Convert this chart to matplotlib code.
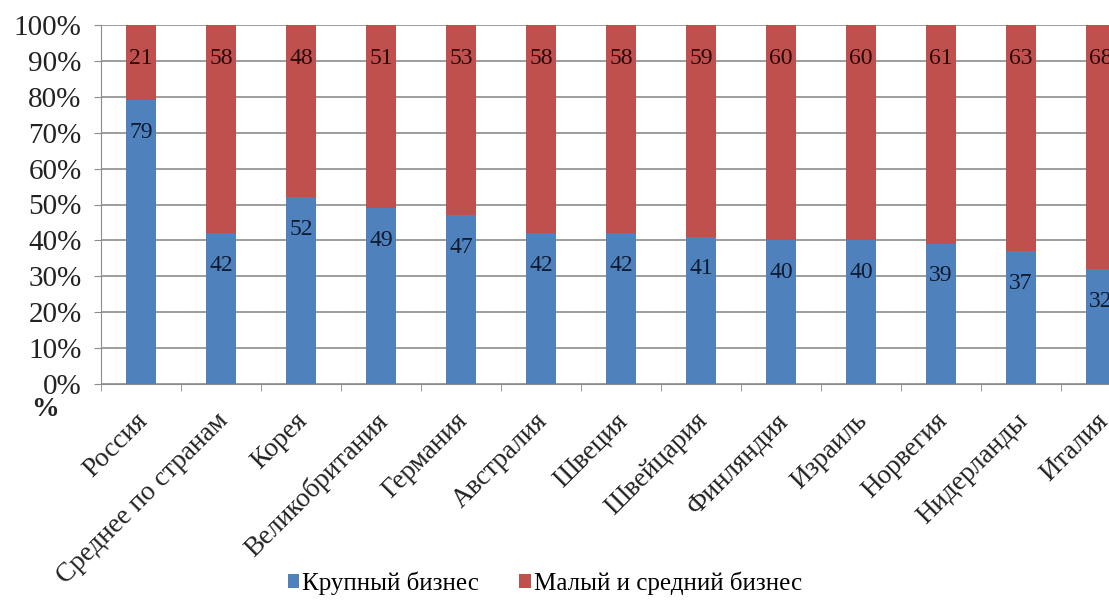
import matplotlib
matplotlib.use("Agg")
import matplotlib.pyplot as plt
import matplotlib.transforms as mtransforms
import numpy as np
from matplotlib.ticker import FixedLocator
from matplotlib.patches import Patch

categories = ["Россия", "Среднее по странам", "Корея", "Великобритания", "Германия",
              "Австралия", "Швеция", "Швейцария", "Финляндия", "Израиль",
              "Норвегия", "Нидерланды", "Италия"]
large_business = [79, 42, 52, 49, 47, 42, 42, 41, 40, 40, 39, 37, 32]
small_medium_business = [21, 58, 48, 51, 53, 58, 58, 59, 60, 60, 61, 63, 68]
series_names = ["Крупный бизнес", "Малый и средний бизнес"]
yticks = [0, 10, 20, 30, 40, 50, 60, 70, 80, 90, 100]

plt.rcParams['font.family'] = ['Liberation Serif', 'DejaVu Serif']

W, H = 1109, 605
fig = plt.figure(figsize=(W / 100, H / 100), dpi=100)
left_px, right_px, top_px, bottom_px = 101, 1141, 25, 384
ax = fig.add_axes([left_px / W, 1 - bottom_px / H, (right_px - left_px) / W, (bottom_px - top_px) / H])

blue = "#4F81BD"
red = "#C0504D"
x = np.arange(len(categories))
bw = 0.38
ax.bar(x, large_business, bw, color=blue, zorder=3)
ax.bar(x, small_medium_business, bw, bottom=large_business, color=red, zorder=3)

for i in range(len(categories)):
    b = large_business[i]
    r = small_medium_business[i]
    ax.annotate(str(b), (x[i], b), xytext=(0, -32), textcoords='offset pixels',
                ha='center', va='center', fontsize=17, color='#0d1b33', zorder=4)
    ax.annotate(str(r), (x[i], b + r), xytext=(0, -33), textcoords='offset pixels',
                ha='center', va='center', fontsize=17, color='#2a0a08', zorder=4)

ax.set_xlim(-0.5, len(categories) - 0.5)
ax.set_ylim(0, 100)
ax.set_yticks(yticks)
ax.set_yticklabels([f"{v}%" for v in yticks], fontsize=21, color='#222222')
ax.yaxis.grid(True, color='#8c8c8c', linewidth=1.2, zorder=0)
ax.set_axisbelow(True)

ax.set_xticks(x)
ax.set_xticklabels(categories, rotation=45, ha='right', va='center', rotation_mode='anchor',
                   fontsize=19.5, color='#222222')
ax.xaxis.set_minor_locator(FixedLocator(np.arange(-0.5, len(categories), 1.0)))
ax.tick_params(axis='x', which='major', length=0, pad=24)
ax.tick_params(axis='x', which='minor', length=5, color='#8c8c8c')
ax.tick_params(axis='y', length=5, color='#8c8c8c', pad=9)
offset = mtransforms.ScaledTranslation(3 / 100, 0, fig.dpi_scale_trans)
for lbl in ax.get_xticklabels():
    lbl.set_transform(lbl.get_transform() + offset)

for s in ['top', 'right']:
    ax.spines[s].set_visible(False)
ax.spines['left'].set_color('#8c8c8c')
ax.spines['bottom'].set_color('#8c8c8c')

fig.text(45 / W, 1 - 409 / H, "%", fontsize=20, fontweight='bold', ha='center', va='center', color='#222222')

handles = [Patch(facecolor=blue), Patch(facecolor=red)]
fig.legend(handles, series_names, loc='center', bbox_to_anchor=(545 / W, 1 - 583 / H),
           ncol=2, frameon=False, fontsize=18, handlelength=0.45, handleheight=0.45,
           handletextpad=0.15, columnspacing=1.6)

fig.savefig("out.png", dpi=100)
